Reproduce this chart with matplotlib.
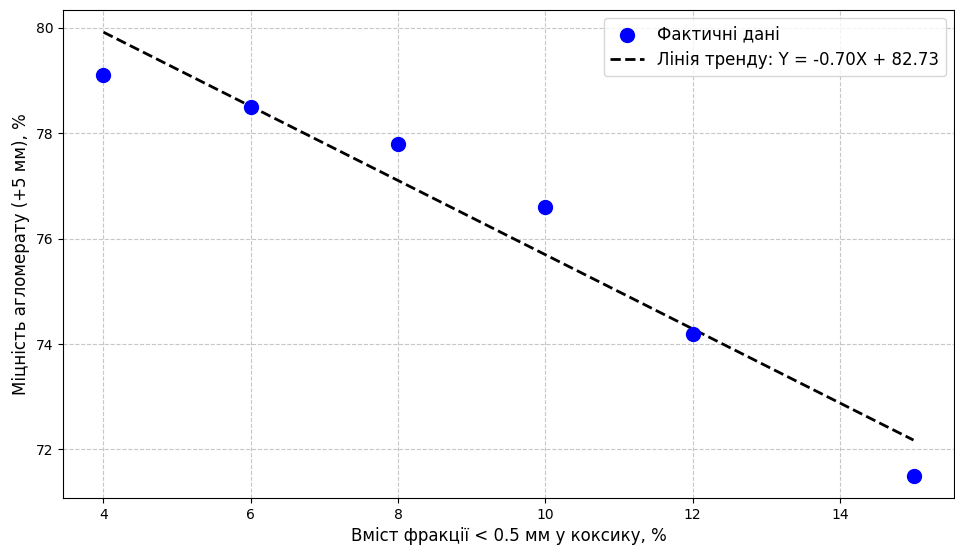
import numpy as np
import matplotlib
matplotlib.use('Agg')
import matplotlib.pyplot as plt

fines = np.array([4, 6, 8, 10, 12, 15])
strength = np.array([79.1, 78.5, 77.8, 76.6, 74.2, 71.5])

k, b = np.polyfit(fines, strength, 1)
trend = k * fines + b

fig = plt.figure(figsize=(9.55, 5.45), dpi=100)
ax = fig.add_axes([63/955, 47/545, 891/955, 488/545])
ax.scatter(fines, strength, color="blue", s=100, label="Фактичні дані", zorder=3)
ax.plot(fines, trend, color="black", linestyle="--", linewidth=2,
        label=f"Лінія тренду: Y = {k:.2f}X + {b:.2f}")
ax.set_xlabel("Вміст фракції < 0.5 мм у коксику, %", fontsize=12)
ax.set_ylabel("Міцність агломерату (+5 мм), %", fontsize=12)
ax.legend(fontsize=12)
ax.grid(True, linestyle="--", alpha=0.7)
plt.savefig("out.png", dpi=100)
